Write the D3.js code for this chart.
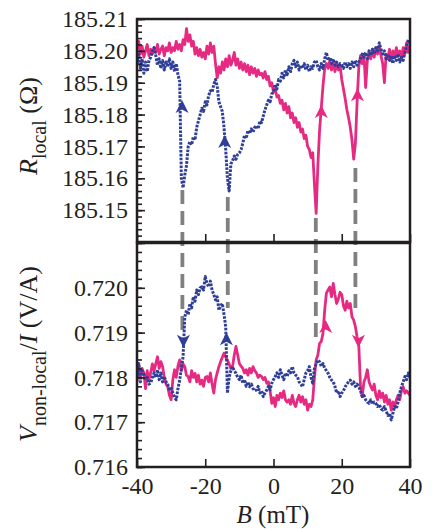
<!DOCTYPE html>
<html><head><meta charset="utf-8">
<script src="https://cdn.jsdelivr.net/npm/d3@7"></script>
<style>
html,body{margin:0;padding:0;background:#fff;}
svg{display:block;font-family:"Liberation Serif","Times New Roman",serif;}
</style></head><body>
<svg id="chart" width="437" height="529"></svg>
<script>
// Field sweep: B from -40 mT to 40 mT in 0.5 mT steps
const fieldStart = -40, fieldStep = 0.5;

// R_local (Ohm), sweep up (pink) and sweep down (blue)
const topPink = [
185.2005,185.2030,185.1990,185.2015,185.1980,185.2000,185.2020,185.1985,185.2005,185.1990,
185.2010,185.1995,185.2020,185.1990,185.2005,185.2015,185.1985,185.2010,185.2000,185.2025,
185.1995,185.2010,185.2000,185.2030,185.2005,185.2020,185.2000,185.2035,185.2020,185.2070,
185.2030,185.2050,185.2015,185.2030,185.1990,185.2010,185.1985,185.2005,185.1980,185.1995,
185.1975,185.2015,185.1990,185.2025,185.1995,185.2015,185.1960,185.1915,185.1950,185.1930,
185.1965,185.1940,185.1975,185.1950,185.1985,185.1955,185.1970,185.1995,185.1955,185.1975,
185.1945,185.1965,185.1940,185.1960,185.1935,185.1955,185.1925,185.1950,185.1930,185.1945,
185.1920,185.1940,185.1925,185.1930,185.1915,185.1935,185.1910,185.1920,185.1890,185.1900,
185.1870,185.1880,185.1855,185.1860,185.1835,185.1845,185.1815,185.1835,185.1805,185.1825,
185.1790,185.1805,185.1775,185.1790,185.1760,185.1775,185.1745,185.1755,185.1725,185.1735,
185.1700,185.1690,185.1665,185.1680,185.1580,185.1490,185.1640,185.1750,185.1820,185.1890,
185.1945,185.1960,185.1945,185.1970,185.1940,185.1965,185.1935,185.1960,185.1940,185.1955,
185.1910,185.1880,185.1850,185.1815,185.1790,185.1760,185.1720,185.1660,185.1710,185.1840,
185.1950,185.1985,185.1960,185.1990,185.1885,185.1970,185.1995,185.1975,185.2005,185.1980,
185.2010,185.1990,185.2015,185.1985,185.1960,185.1900,185.1990,185.1975,185.2005,185.1970,
185.2000,185.1980,185.2010,185.1985,185.2000,185.1975,185.2010,185.1990,185.2025,185.1995,
185.2015];
const topBlue = [
185.1960,185.1990,185.1945,185.1975,185.1930,185.1965,185.1935,185.1970,185.1980,185.2000,
185.2010,185.1985,185.1955,185.1975,185.1945,185.1970,185.1940,185.1965,185.1950,185.1975,
185.1945,185.1965,185.1935,185.1960,185.1925,185.1905,185.1600,185.1570,185.1610,185.1640,
185.1700,185.1715,185.1705,185.1730,185.1720,185.1760,185.1780,185.1800,185.1820,185.1810,
185.1840,185.1830,185.1860,185.1875,185.1870,185.1895,185.1910,185.1890,185.1840,185.1825,
185.1810,185.1760,185.1690,185.1600,185.1560,185.1645,185.1655,185.1670,185.1660,185.1675,
185.1680,185.1690,185.1710,185.1735,185.1725,185.1750,185.1740,185.1755,185.1745,185.1760,
185.1765,185.1755,185.1780,185.1775,185.1795,185.1815,185.1830,185.1845,185.1840,185.1865,
185.1870,185.1895,185.1880,185.1910,185.1905,185.1930,185.1915,185.1940,185.1925,185.1950,
185.1935,185.1960,185.1970,185.1950,185.1965,185.1940,185.1955,185.1945,185.1960,185.1940,
185.1955,185.1935,185.1950,185.1945,185.1965,185.1970,185.1950,185.1940,185.1960,185.1945,
185.1975,185.1995,185.1970,185.1980,185.1960,185.1975,185.1955,185.1965,185.1950,185.1960,
185.1955,185.1945,185.1965,185.1950,185.1960,185.1945,185.1965,185.1950,185.1970,185.1955,
185.1965,185.1975,185.1990,185.1980,185.1995,185.1975,185.2000,185.1985,185.2005,185.1990,
185.2010,185.2000,185.2025,185.2005,185.1990,185.2000,185.1975,185.1990,185.1970,185.1985,
185.1960,185.1985,185.1970,185.1990,185.1965,185.1980,185.1970,185.1995,185.2015,185.2035,
185.2020];

// V_non-local / I (V/A)
const botPink = [
0.71790,0.71830,0.71800,0.71820,0.71810,0.71775,0.71815,0.71795,0.71810,0.71830,
0.71815,0.71830,0.71846,0.71820,0.71835,0.71824,0.71800,0.71785,0.71779,0.71760,
0.71750,0.71795,0.71817,0.71800,0.71825,0.71839,0.71815,0.71830,0.71824,0.71805,
0.71802,0.71790,0.71815,0.71800,0.71809,0.71790,0.71805,0.71785,0.71794,0.71780,
0.71800,0.71802,0.71790,0.71810,0.71785,0.71765,0.71795,0.71810,0.71824,0.71835,
0.71845,0.71854,0.71845,0.71839,0.71830,0.71820,0.71824,0.71850,0.71869,0.71850,
0.71831,0.71825,0.71820,0.71810,0.71817,0.71805,0.71820,0.71810,0.71824,0.71815,
0.71810,0.71800,0.71805,0.71802,0.71795,0.71800,0.71787,0.71790,0.71770,0.71742,
0.71755,0.71735,0.71760,0.71750,0.71765,0.71755,0.71770,0.71750,0.71745,0.71750,
0.71740,0.71760,0.71742,0.71735,0.71750,0.71760,0.71745,0.71757,0.71740,0.71750,
0.71727,0.71740,0.71735,0.71750,0.71800,0.71839,0.71850,0.71876,0.71880,0.71898,
0.71950,0.71988,0.71995,0.72002,0.71980,0.72010,0.71985,0.71965,0.71975,0.71990,
0.71985,0.71960,0.71950,0.71970,0.71955,0.71965,0.71935,0.71928,0.71913,0.71890,
0.71870,0.71780,0.71757,0.71790,0.71800,0.71817,0.71790,0.71780,0.71772,0.71785,
0.71760,0.71750,0.71770,0.71755,0.71765,0.71745,0.71760,0.71740,0.71750,0.71727,
0.71745,0.71735,0.71750,0.71760,0.71750,0.71770,0.71779,0.71765,0.71770,0.71765,
0.71760];
const botBlue = [
0.71800,0.71831,0.71790,0.71815,0.71809,0.71795,0.71800,0.71785,0.71787,0.71800,
0.71810,0.71800,0.71817,0.71795,0.71810,0.71790,0.71802,0.71790,0.71785,0.71770,
0.71779,0.71765,0.71755,0.71750,0.71775,0.71794,0.71820,0.71846,0.71935,0.71950,
0.71940,0.71965,0.71955,0.71980,0.71970,0.71995,0.71985,0.72000,0.72002,0.71995,
0.72025,0.72010,0.72002,0.72015,0.71995,0.71985,0.71973,0.71980,0.71950,0.71960,
0.71965,0.71940,0.71913,0.71765,0.71800,0.71815,0.71824,0.71815,0.71809,0.71800,
0.71795,0.71805,0.71787,0.71795,0.71780,0.71790,0.71779,0.71785,0.71775,0.71770,
0.71772,0.71780,0.71765,0.71770,0.71757,0.71765,0.71772,0.71780,0.71772,0.71787,
0.71795,0.71802,0.71810,0.71800,0.71817,0.71805,0.71795,0.71810,0.71802,0.71815,
0.71810,0.71824,0.71810,0.71805,0.71802,0.71790,0.71785,0.71779,0.71795,0.71810,
0.71815,0.71824,0.71800,0.71787,0.71820,0.71830,0.71839,0.71835,0.71825,0.71831,
0.71820,0.71815,0.71809,0.71800,0.71794,0.71790,0.71780,0.71765,0.71770,0.71757,
0.71765,0.71770,0.71779,0.71785,0.71790,0.71794,0.71785,0.71790,0.71780,0.71785,
0.71779,0.71770,0.71757,0.71760,0.71750,0.71745,0.71742,0.71750,0.71740,0.71745,
0.71742,0.71735,0.71740,0.71730,0.71727,0.71735,0.71725,0.71715,0.71720,0.71705,
0.71720,0.71735,0.71730,0.71745,0.71765,0.71780,0.71790,0.71802,0.71795,0.71810,
0.71800];

// Tick labels
const xTicks = [-40, -20, 0, 20, 40];
const rTicks = [185.15, 185.16, 185.17, 185.18, 185.19, 185.20, 185.21];
const vTicks = [0.716, 0.717, 0.718, 0.719, 0.720];

// Switching-field guide lines: B, top-panel start (R), bottom-panel end (V)
const guideB   = [-26.7, -13.4, 12.4, 24.0];
const guideTop = [185.1563, 185.1541, 185.1475, 185.1632];
const guideBot = [0.71906, 0.71955, 0.71877, 0.71946];

// Direction arrows: panel, series, B, tip value, direction
const arrowPanel = ["top","top","top","top","bot","bot","bot","bot"];
const arrowSeries = ["blue","blue","pink","pink","blue","blue","pink","pink"];
const arrowB = [-26.8, -14.3, 14.0, 24.6, -26.4, -13.8, 15.3, 24.9];
const arrowVal = [185.1846, 185.1736, 185.1830, 185.1883, 0.71866, 0.71901, 0.71928, 0.71866];
const arrowDir = ["up","up","up","up","down","up","up","down"];

const colors = {pink: "#e62a82", blue: "#2f3f98", guide: "#808080", ink: "#231f20"};

const svg = d3.select("#chart");
const L = 137, R = 410;
const x = d3.scaleLinear().domain([-40, 40]).range([L, R]);
const yTop = d3.scaleLinear().domain([185.14, 185.21]).range([242, 19]);
const yBot = d3.scaleLinear().domain([0.716, 0.721]).range([467, 243]);

const fieldB = topPink.map((_, i) => fieldStart + i * fieldStep);

// clip paths
const defs = svg.append("defs");
defs.append("clipPath").attr("id","clipTop").append("rect")
  .attr("x", L).attr("y", yTop(185.21)).attr("width", R-L).attr("height", yTop(185.14)-yTop(185.21));
defs.append("clipPath").attr("id","clipBot").append("rect")
  .attr("x", L).attr("y", yBot(0.721)).attr("width", R-L).attr("height", yBot(0.716)-yBot(0.721));

// guide lines
const guides = svg.append("g");
guideB.forEach((b, i) => {
  guides.append("line")
    .attr("x1", x(b)).attr("x2", x(b))
    .attr("y1", yTop(guideTop[i])).attr("y2", yBot(guideBot[i]))
    .attr("stroke", colors.guide).attr("stroke-width", 3.8)
    .attr("stroke-dasharray", "14 7");
});

function drawSeries(values, yScale, clip, color, dashed) {
  const data = values.map((v, i) => [fieldB[i], v]);
  const line = d3.line().x(d => x(d[0])).y(d => yScale(d[1]));
  const p = svg.append("path").datum(data)
    .attr("clip-path", `url(#${clip})`)
    .attr("d", line).attr("fill", "none")
    .attr("stroke", color)
    .attr("stroke-linejoin", "round");
  if (dashed) p.attr("stroke-width", 3).attr("stroke-dasharray", "2.6 1.3");
  else p.attr("stroke-width", 2.8);
}
drawSeries(topPink, yTop, "clipTop", colors.pink, false);
drawSeries(topBlue, yTop, "clipTop", colors.blue, true);
drawSeries(botPink, yBot, "clipBot", colors.pink, false);
drawSeries(botBlue, yBot, "clipBot", colors.blue, true);

// arrows
arrowB.forEach((b, i) => {
  const ys = arrowPanel[i] === "top" ? yTop : yBot;
  const up = arrowDir[i] === "up";
  const s = up ? 1 : -1;
  svg.append("path")
    .attr("transform", `translate(${x(b)},${ys(arrowVal[i])})`)
    .attr("d", `M0,0 L6.5,${13*s} L0,${9.5*s} L-6.5,${13*s} Z`)
    .attr("fill", colors[arrowSeries[i]]);
});

// axes
function styleAxis(g, fontSize) {
  g.select(".domain").remove();
  g.selectAll(".tick line").attr("stroke", colors.ink).attr("stroke-width", 1.6);
  g.selectAll(".tick text").attr("fill", colors.ink)
    .attr("font-family", "'Liberation Serif','Times New Roman',serif")
    .attr("font-size", fontSize);
  g.attr("font-family", null).attr("font-size", null);
}
const topMinor = d3.range(0, 36).map(k => 185.14 + k * 0.002);
const botMinor = d3.range(0, 26).map(k => 0.716 + k * 0.0002);

svg.append("g").attr("transform", `translate(${L},0)`)
  .call(d3.axisLeft(yTop).tickValues(topMinor).tickSize(-5).tickFormat(""))
  .call(g => styleAxis(g, 24));
svg.append("g").attr("transform", `translate(${L},0)`)
  .call(d3.axisLeft(yTop).tickValues(rTicks).tickSize(-8).tickPadding(9).tickFormat(d3.format(".2f")))
  .call(g => styleAxis(g, 24));
svg.append("g").attr("transform", `translate(${L},0)`)
  .call(d3.axisLeft(yBot).tickValues(botMinor).tickSize(-5).tickFormat(""))
  .call(g => styleAxis(g, 24));
svg.append("g").attr("transform", `translate(${L},0)`)
  .call(d3.axisLeft(yBot).tickValues(vTicks.concat([0.721])).tickSize(-8).tickPadding(9)
        .tickFormat(d => d > 0.7205 ? "" : d3.format(".3f")(d)))
  .call(g => styleAxis(g, 24));
svg.append("g").attr("transform", `translate(0,${yTop(185.14)})`)
  .call(d3.axisBottom(x).tickValues(xTicks).tickSize(-8).tickFormat(""))
  .call(g => styleAxis(g, 24));
svg.append("g").attr("transform", `translate(0,${yBot(0.716)})`)
  .call(d3.axisBottom(x).tickValues(xTicks).tickSize(-8).tickPadding(10).tickFormat(d => String(d)))
  .call(g => styleAxis(g, 24));

// frames
svg.append("rect").attr("x", L).attr("y", yTop(185.21)).attr("width", R-L)
  .attr("height", yTop(185.14)-yTop(185.21))
  .attr("fill","none").attr("stroke", colors.ink).attr("stroke-width", 2.5);
svg.append("rect").attr("x", L).attr("y", yBot(0.721)).attr("width", R-L)
  .attr("height", yBot(0.716)-yBot(0.721))
  .attr("fill","none").attr("stroke", colors.ink).attr("stroke-width", 2.5);

// axis titles
const t1 = svg.append("text").attr("transform", "translate(37,126) rotate(-90)")
  .attr("text-anchor","middle").attr("fill", colors.ink).attr("font-size", 26);
t1.append("tspan").attr("font-style","italic").text("R");
t1.append("tspan").attr("font-size", 20).attr("dy", 9).text("local");
t1.append("tspan").attr("dy", -9).text(" (Ω)");

const t2 = svg.append("text").attr("transform", "translate(37,354) rotate(-90)")
  .attr("text-anchor","middle").attr("fill", colors.ink).attr("font-size", 26);
t2.append("tspan").attr("font-style","italic").text("V");
t2.append("tspan").attr("font-size", 20).attr("dy", 9).text("non-local");
t2.append("tspan").attr("dy", -9).text("/");
t2.append("tspan").attr("font-style","italic").text("I");
t2.append("tspan").text(" (V/A)");

const t3 = svg.append("text").attr("x", 273).attr("y", 523)
  .attr("text-anchor","middle").attr("fill", colors.ink).attr("font-size", 25);
t3.append("tspan").attr("font-style","italic").text("B");
t3.append("tspan").text(" (mT)");
</script>
</body></html>
